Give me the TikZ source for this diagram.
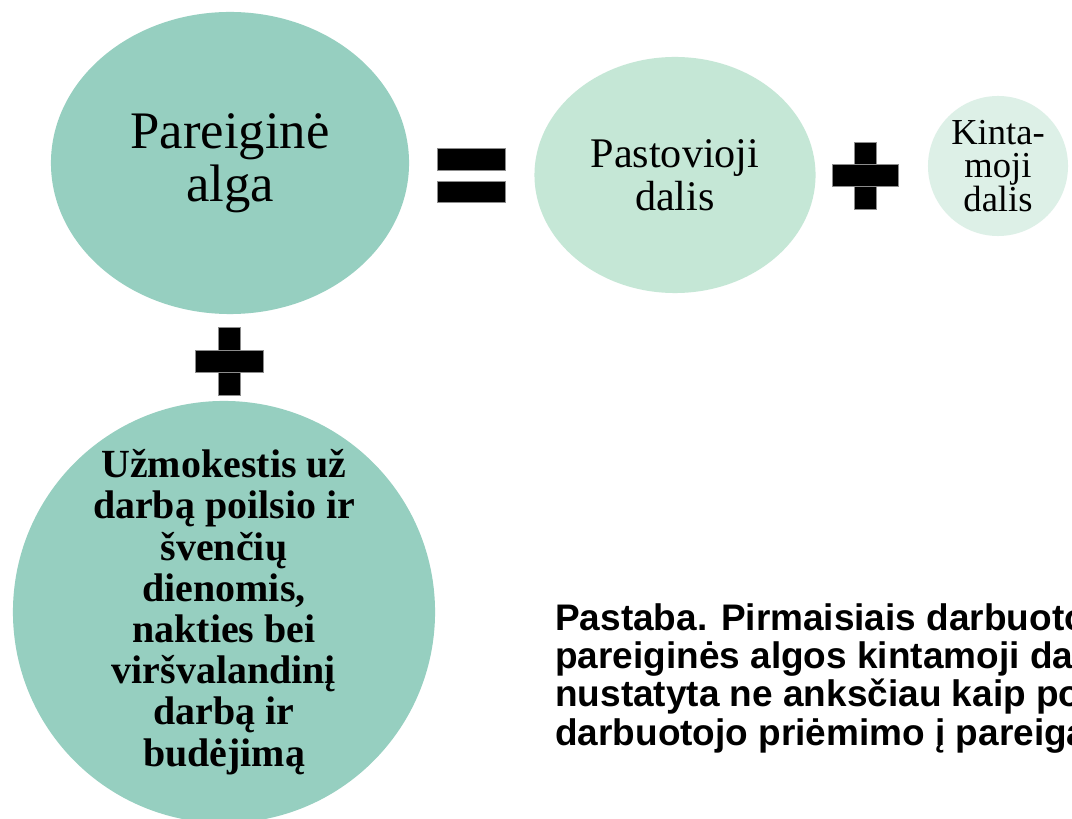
\documentclass[tikz,border=0pt]{standalone}
\usepackage{fontspec}
\setmainfont{Liberation Serif}
\newfontfamily\notefont{Liberation Sans}
\usepackage{xcolor}
\usepackage{tikz}
\usetikzlibrary{shapes.geometric}
\definecolor{SalaryTeal}{RGB}{150,207,192}
\definecolor{SalaryMint}{RGB}{197,231,214}
\definecolor{SalaryPale}{RGB}{221,240,231}

\begin{document}
\begin{tikzpicture}[
    x=0.025cm, y=-0.025cm,
    blob/.style={ellipse, inner sep=0pt, align=center, text=black},
    ball/.style={circle, inner sep=0pt, align=center, text=black},
    signbar/.style={fill=black, draw=black!45, line width=0.4pt}
  ]
    \clip (0,0) rectangle (1072,819);
    \fill[white] (0,0) rectangle (1072,819);
    % top row: salary = fixed part + variable part
    \node[blob, fill=SalaryTeal, minimum width=8.95cm, minimum height=7.55cm,
      font=\fontsize{37.5}{37.5}\selectfont] (salary) at (230,163) {Pareiginė\\alga};
    \node[blob, fill=SalaryMint, minimum width=7.025cm, minimum height=5.9cm,
      font=\fontsize{30}{30.5}\selectfont] (fixed) at (675,175) {Pastovioji\\dalis};
    \node[ball, fill=SalaryPale, minimum size=3.5cm,
      font=\fontsize{26}{24}\selectfont] (variable) at (998,166) {Kinta-\\moji\\dalis};
    % signs
    \fill[signbar] (437,148) rectangle (505,170);
    \fill[signbar] (437,181) rectangle (505,202);
    \fill[signbar] (854,142) rectangle (876,209);
    \fill[signbar] (832,164) rectangle (898,186);
    \fill[signbar] (218,327) rectangle (240,395);
    \fill[signbar] (195,350) rectangle (263,372);
    % extra pay
    \node[ball, fill=SalaryTeal, minimum size=10.55cm,
      font=\fontsize{28.4}{29.3}\selectfont\bfseries] (extra) at (224,612)
      {Užmokestis už\\darbą poilsio ir\\švenčių\\dienomis,\\nakties bei\\viršvalandinį\\darbą ir\\budėjimą};
    \node[anchor=base west, align=left, inner sep=0pt,
      font=\notefont\fontsize{26.3}{27.2}\selectfont\bfseries] (note) at (555,745)
      {Pastaba. Pirmaisiais darbuoto\\pareiginės algos kintamoji da\\nustatyta ne anksčiau kaip po\\darbuotojo priėmimo į pareiga};
  \end{tikzpicture}
\end{document}
